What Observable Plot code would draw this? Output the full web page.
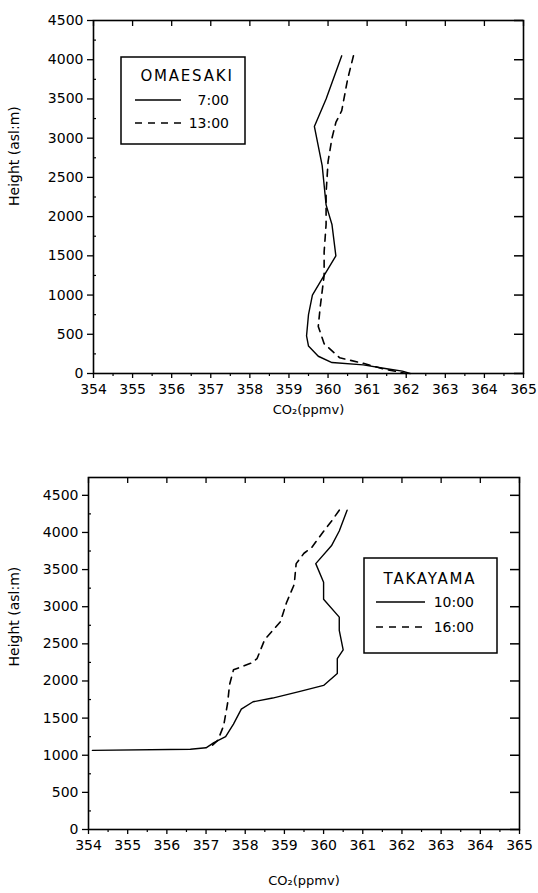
<!DOCTYPE html>
<html>
<head>
<meta charset="utf-8">
<script src="https://cdn.jsdelivr.net/npm/d3@7"></script>
<script src="https://cdn.jsdelivr.net/npm/@observablehq/plot@0.6"></script>
<style>
  body { margin: 0; background: #fff; }
  #chart { width: 538px; }
  #chart svg { display: block; }
</style>
</head>
<body>
<div id="chart"></div>
<script>
// Vertical CO2 profiles from aircraft soundings (ppmv against height above sea level)

const xTicks = [354, 355, 356, 357, 358, 359, 360, 361, 362, 363, 364, 365];
const xHalfTicks = [354.5, 355.5, 356.5, 357.5, 358.5, 359.5, 360.5, 361.5, 362.5, 363.5, 364.5];
const yTicks = [0, 500, 1000, 1500, 2000, 2500, 3000, 3500, 4000, 4500];
const yMinorTicks = [250, 750, 1250, 1750, 2250, 2750, 3250, 3750, 4250];

const xLabel = "CO\u2082(ppmv)";
const yLabel = "Height (asl:m)";

// OMAESAKI
const omaesakiTitle = "OMAESAKI";
const omaesakiTimes = ["7:00", "13:00"];
const omaesakiCo2_0700 = [360.35, 359.95, 359.65, 359.85, 359.9, 359.95, 360.1, 360.2, 359.9, 359.6, 359.5, 359.45, 359.5, 359.75, 360.1, 360.9, 361.5, 361.9, 362.1];
const omaesakiHeight_0700 = [4050, 3500, 3150, 2650, 2400, 2150, 1900, 1500, 1250, 1000, 750, 480, 350, 220, 140, 110, 60, 30, 0];
const omaesakiCo2_1300 = [360.65, 360.5, 360.35, 360.2, 360.1, 360.0, 359.95, 359.95, 359.9, 359.9, 359.8, 359.75, 359.9, 360.3, 360.9, 361.4, 361.8, 362.0];
const omaesakiHeight_1300 = [4050, 3750, 3350, 3200, 3000, 2700, 2300, 1900, 1550, 1250, 850, 600, 380, 200, 130, 60, 20, 0];

// TAKAYAMA
const takayamaTitle = "TAKAYAMA";
const takayamaTimes = ["10:00", "16:00"];
const takayamaCo2_1000 = [360.6, 360.4, 360.2, 359.8, 360.0, 360.0, 360.4, 360.4, 360.5, 360.35, 360.35, 360.0, 359.4, 358.7, 358.2, 357.9, 357.7, 357.5, 357.2, 357.0, 356.6, 354.1];
const takayamaHeight_1000 = [4300, 4020, 3820, 3580, 3330, 3100, 2860, 2680, 2420, 2300, 2100, 1940, 1860, 1770, 1720, 1620, 1420, 1250, 1170, 1100, 1080, 1065];
const takayamaCo2_1600 = [360.4, 360.2, 359.95, 359.7, 359.5, 359.3, 359.25, 359.05, 358.9, 358.5, 358.3, 358.15, 357.7, 357.6, 357.55, 357.45, 357.3, 357.15];
const takayamaHeight_1600 = [4300, 4150, 3980, 3800, 3720, 3580, 3300, 3050, 2800, 2560, 2300, 2240, 2150, 1950, 1700, 1400, 1200, 1130];

const FONT = "'DejaVu Sans', 'Liberation Sans', sans-serif";
const DASH = "7,6";
const plain = d => `${d}`;

const profile = (co2, height) => co2.map((c, i) => ({co2: c, height: height[i]}));

function panel({solid, dashed, yDomain, height, margin, xLabelDy, yLabelDy}) {
  const innerW = 538 - margin.left - margin.right;
  const innerH = height - margin.top - margin.bottom;
  return Plot.plot({
    width: 538,
    height,
    marginTop: margin.top,
    marginRight: margin.right,
    marginBottom: margin.bottom,
    marginLeft: margin.left,
    x: {domain: [354, 365]},
    y: {domain: yDomain},
    style: {fontFamily: FONT, fontSize: "14px", color: "black", background: "white"},
    marks: [
      // outward ticks with labels
      Plot.axisX(xTicks, {tickSize: 5, tickPadding: 6, tickFormat: plain, label: null, strokeWidth: 1.3}),
      Plot.axisX(xHalfTicks, {tickSize: 3, tickFormat: () => "", label: null, strokeWidth: 1.2}),
      Plot.axisY(yTicks, {tickSize: 6, tickPadding: 4, tickFormat: plain, label: null, strokeWidth: 1.3}),
      // inward ticks on the top, right and left spines
      Plot.tickX(xTicks, {x: d => d, insetBottom: innerH - 6, stroke: "black", strokeWidth: 1.3}),
      Plot.tickY(yTicks, {y: d => d, insetLeft: innerW - 9, stroke: "black", strokeWidth: 1.5}),
      Plot.tickY(yMinorTicks, {y: d => d, insetRight: innerW - 3, stroke: "black", strokeWidth: 1.2}),
      Plot.frame({stroke: "black", strokeWidth: 1.6}),
      // profiles
      Plot.line(solid, {x: "co2", y: "height", stroke: "black", strokeWidth: 1.4}),
      Plot.line(dashed, {x: "co2", y: "height", stroke: "black", strokeWidth: 1.6, strokeDasharray: DASH}),
      // axis titles
      Plot.text([xLabel], {frameAnchor: "bottom", dy: xLabelDy, fontSize: 13, fill: "black"}),
      Plot.text([yLabel], {frameAnchor: "left", rotate: -90, dx: 14 - margin.left, dy: yLabelDy, fontSize: 14, fill: "black", letterSpacing: 0.4})
    ]
  });
}

function addLegend(svg, {box, title, titleAt, lineX, textEnd, rows, labels}) {
  const g = d3.select(svg).append("g").attr("class", "legend");
  g.append("rect")
    .attr("x", box[0]).attr("y", box[1]).attr("width", box[2]).attr("height", box[3])
    .attr("fill", "white").attr("stroke", "black").attr("stroke-width", 1.5);
  g.append("text")
    .attr("x", titleAt[0]).attr("y", titleAt[1])
    .attr("text-anchor", "middle").attr("dominant-baseline", "central")
    .attr("font-family", FONT).attr("font-size", 15).attr("letter-spacing", 1.8)
    .text(title);
  labels.forEach((label, i) => {
    g.append("line")
      .attr("x1", lineX[0]).attr("x2", lineX[1]).attr("y1", rows[i]).attr("y2", rows[i])
      .attr("stroke", "black").attr("stroke-width", i === 0 ? 1.4 : 1.6)
      .attr("stroke-dasharray", i === 0 ? null : DASH);
    g.append("text")
      .attr("x", textEnd).attr("y", rows[i])
      .attr("text-anchor", "end").attr("dominant-baseline", "central")
      .attr("font-family", FONT).attr("font-size", 14)
      .text(label);
  });
}

const omaesakiChart = panel({
  solid: profile(omaesakiCo2_0700, omaesakiHeight_0700),
  dashed: profile(omaesakiCo2_1300, omaesakiHeight_1300),
  yDomain: [0, 4500],
  height: 430,
  margin: {top: 20, right: 15, bottom: 57, left: 93},
  xLabelDy: 40,
  yLabelDy: 9
});
addLegend(omaesakiChart, {
  box: [121, 57, 124, 87],
  title: omaesakiTitle,
  titleAt: [187, 76],
  lineX: [135, 181],
  textEnd: 229,
  rows: [100, 123],
  labels: omaesakiTimes
});

const takayamaChart = panel({
  solid: profile(takayamaCo2_1000, takayamaHeight_1000),
  dashed: profile(takayamaCo2_1600, takayamaHeight_1600),
  yDomain: [0, 4740],
  height: 463,
  margin: {top: 47, right: 19, bottom: 64, left: 88},
  xLabelDy: 55,
  yLabelDy: 13
});
addLegend(takayamaChart, {
  box: [364, 128, 133, 95],
  title: takayamaTitle,
  titleAt: [430, 149],
  lineX: [376, 425],
  textEnd: 474,
  rows: [172, 197],
  labels: takayamaTimes
});

document.getElementById("chart").append(omaesakiChart, takayamaChart);
</script>
</body>
</html>
